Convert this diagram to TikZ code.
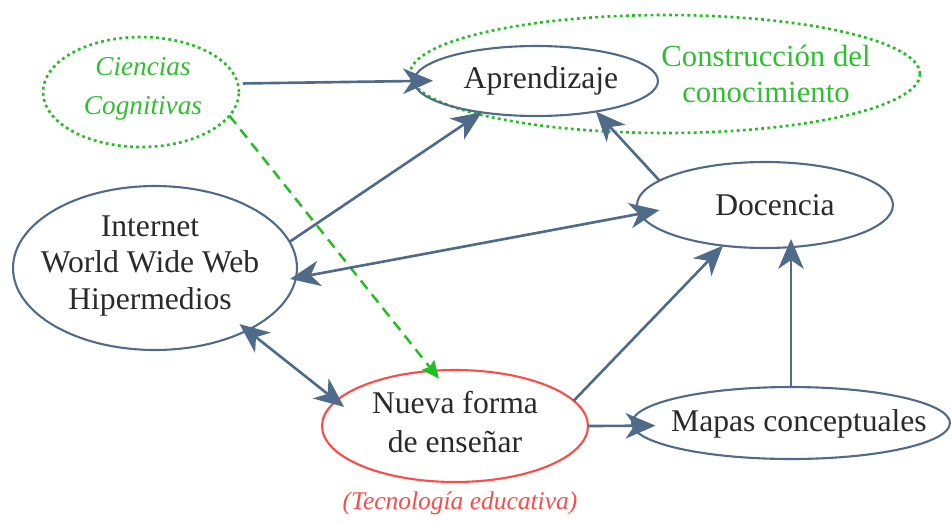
\documentclass[tikz,border=0pt]{standalone}
\usepackage{fontspec}
\setmainfont{Liberation Serif}
\usetikzlibrary{shapes.geometric,arrows.meta}

\definecolor{slate}{HTML}{506B89}
\definecolor{leaf}{HTML}{22BE22}
\definecolor{leaftext}{HTML}{2FBF2F}
\definecolor{coral}{HTML}{FF4A4A}
\definecolor{ink}{HTML}{2A2A2A}

\tikzset{
  oval/.style={ellipse, draw=slate, line width=1.2pt, inner sep=0pt, outer sep=0pt},
  greenoval/.style={ellipse, draw=leaf, line width=1.5pt, dash pattern=on 1.6pt off 1.9pt, inner sep=0pt, outer sep=0pt},
  redoval/.style={ellipse, draw=coral, line width=1.2pt, inner sep=0pt, outer sep=0pt},
  lbl/.style={text=ink, align=center, font=\fontsize{18}{20.5}\selectfont, inner sep=0pt},
  glbl/.style={text=leaftext, align=center, font=\fontsize{17.5}{21}\selectfont, inner sep=0pt},
  gital/.style={text=leaftext, align=center, font=\fontsize{15.5}{22}\selectfont\itshape, inner sep=0pt},
  rital/.style={text=coral, font=\fontsize{14.5}{17}\selectfont\itshape, inner sep=0pt},
  arr/.style={draw=slate, line width=1.5pt,
    -{Stealth[length=17pt, width=14.5pt, inset=5pt, fill=slate]}},
  biarr/.style={draw=slate, line width=1.5pt,
    {Stealth[length=17pt, width=14.5pt, inset=5pt, fill=slate]}-{Stealth[length=17pt, width=14.5pt, inset=5pt, fill=slate]}},
  garr/.style={draw=leaf, line width=1.4pt, dash pattern=on 6pt off 4pt,
    -{Stealth[length=10pt, width=9pt, inset=1.5pt, fill=leaf]}},
}

\begin{document}
\begin{tikzpicture}[x=0.02cm, y=-0.02cm]
  \useasboundingbox (0,0) rectangle (951,522);

  % concept ellipses
  \node[greenoval, minimum width=10.2cm, minimum height=2.36cm] (cn) at (665,74) {};
  \node[greenoval, minimum width=3.92cm, minimum height=2.2cm] (cc) at (141,92) {};
  \node[oval, minimum width=4.88cm, minimum height=1.4cm] (ap) at (536,81) {};
  \node[oval, minimum width=5.12cm, minimum height=1.72cm] (do) at (765,205) {};
  \node[oval, minimum width=5.68cm, minimum height=3.28cm] (in) at (155,268) {};
  \node[redoval, minimum width=5.32cm, minimum height=2.24cm] (nf) at (455,426) {};
  \node[oval, minimum width=6.36cm, minimum height=1.44cm] (ma) at (791,423) {};

  % texts
  \node[glbl] (cn-t) at (766,74) {Construcción del\\conocimiento};
  \node[gital] (cc-t) at (143,89) {Ciencias\\Cognitivas};
  \node[lbl] (ap-t) at (541,81) {Aprendizaje};
  \node[lbl] (do-t) at (775,205) {Docencia};
  \node[lbl] (in-t) at (150,266) {Internet\\World Wide Web\\Hipermedios};
  \node[lbl, font=\fontsize{18}{22}\selectfont] (nf-t) at (455,422) {Nueva forma\\de enseñar};
  \node[lbl] (ma-t) at (799,424) {Mapas conceptuales};
  \node[rital] (te-t) at (460,503) {(Tecnología educativa)};

  % connectors
  \draw[arr, shorten <=0.1cm, shorten >=-0.38cm] (cc.5) -- (ap.west);
  \draw[garr, shorten >=-0.2cm] (cc.-15) -- (nf.112);
  \draw[arr] (in.11) -- (ap.210);
  \draw[biarr, shorten <=-0.12cm, shorten >=-0.4cm] (in.-4) -- (do.184);
  \draw[biarr, shorten <=-0.2cm, shorten >=-0.2cm] (in.-34) -- (nf.168);
  \draw[arr] (do.167) -- (ap.-27);
  \draw[arr] (nf.12) -- (do.224);
  \draw[arr, shorten >=-0.46cm] (nf.east) -- (ma.181);
  \draw[arr, shorten >=-0.18cm] (ma.north) -- (do.south -| ma.north);
\end{tikzpicture}
\end{document}
